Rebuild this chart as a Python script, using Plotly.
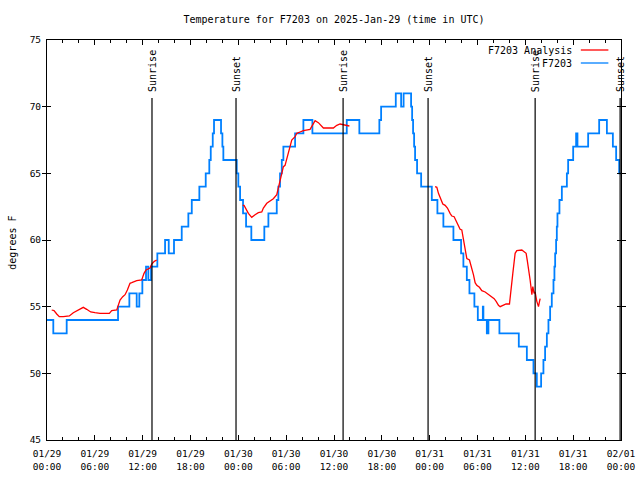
import pandas as pd
import plotly.graph_objects as go

BASE = pd.Timestamp("2025-01-29 00:00")

# Observed temperature (F7203), hours since 2025-01-29 00:00 UTC
obs_hours = [0.0, 0.79, 2.47, 8.91, 10.33, 11.25, 11.58, 11.96, 12.42, 12.71, 13.05, 13.84,
             14.81, 15.27, 15.93, 16.90, 17.73, 18.16, 19.11, 19.91, 20.36, 20.54, 20.79, 20.95,
             21.83, 22.0, 22.12, 23.80, 24.0, 24.22, 24.59, 24.97, 25.63, 27.26, 27.77, 28.82,
             29.02, 29.23, 29.45, 29.65, 31.12, 32.16, 33.29, 37.60, 39.18, 41.69, 41.91, 43.75,
             44.42, 44.73, 45.67, 45.80, 45.92, 46.05, 46.17, 46.42, 46.93, 48.27, 48.97, 49.72,
             50.98, 51.94, 52.23, 52.66, 52.99, 53.61, 54.04, 54.67, 54.74, 55.17, 55.37, 56.75,
             59.18, 60.19, 61.02, 61.44, 61.98, 62.27, 62.48, 62.70, 62.90, 63.11, 63.32, 63.53,
             63.65, 63.74, 63.86, 63.95, 64.03, 64.28, 64.58, 65.21, 65.37, 66.0, 66.37, 66.54,
             67.88, 69.26, 70.23, 70.98, 71.39, 71.77, 72.0]
obs_temp = [54, 53, 54, 55, 56, 55, 56, 57, 58, 57, 58, 59,
            60, 59, 60, 61, 62, 63, 64, 65, 66, 67, 68, 69,
            68, 67, 66, 65, 64, 63, 62, 61, 60, 61, 62, 63,
            64, 65, 66, 67, 68, 69, 68, 69, 68, 69, 70, 71,
            70, 71, 70, 69, 68, 67, 66, 65, 64, 63, 62, 61,
            60, 59, 58, 57, 56, 55, 54, 55, 54, 53, 54, 53,
            52, 51, 50, 49, 50, 51, 52, 53, 54, 55, 56, 57,
            58, 59, 60, 61, 62, 63, 64, 65, 66, 67, 68, 67,
            68, 69, 68, 67, 66, 65, 65]

# Analysis temperature (F7203 Analysis), three segments
ana1_hours = [0.59, 0.88, 1.22, 1.54, 2.05, 2.80, 3.30, 3.93, 4.55, 4.98, 5.48, 6.02, 6.65,
              7.82, 8.12, 8.75, 9.16, 9.50, 9.79, 10.08, 10.41, 10.63, 11.25, 11.88, 12.17,
              12.42, 12.92, 13.14, 13.46, 13.76]
ana1_temp = [54.75, 54.7, 54.45, 54.25, 54.25, 54.3, 54.55, 54.75, 54.95, 54.8, 54.6, 54.55, 54.5,
             54.5, 54.7, 54.75, 55.5, 55.75, 55.9, 56.25, 56.75, 56.8, 56.95, 57.0, 57.5,
             57.75, 57.9, 58.2, 58.4, 58.5]
ana2_hours = [24.55, 24.72, 25.26, 25.68, 26.10, 26.51, 26.94, 27.14, 27.57, 27.98, 28.39, 28.82,
              29.02, 29.23, 29.65, 29.86, 30.08, 30.28, 30.49, 30.70, 31.12, 31.33, 31.74, 32.16,
              33.0, 33.34, 33.63, 34.04, 34.47, 34.67, 35.92, 36.35, 36.76, 37.39, 37.93]
ana2_temp = [62.6, 62.6, 62.0, 61.7, 61.9, 62.05, 62.1, 62.4, 62.75, 62.9, 63.1, 63.4,
             63.9, 64.5, 65.5, 65.6, 66.1, 66.6, 67.1, 67.5, 67.75, 68.0, 68.1, 68.2,
             68.3, 68.6, 68.95, 68.8, 68.5, 68.4, 68.4, 68.6, 68.7, 68.6, 68.55]
ana3_hours = [48.68, 48.90, 49.10, 49.40, 49.65, 49.94, 50.23, 50.56, 50.78, 51.07, 51.32, 51.61,
              51.82, 52.03, 52.23, 52.45, 52.66, 52.99, 53.29, 53.49, 53.70, 53.91, 54.24, 54.54,
              54.96, 55.37, 55.80, 56.09, 56.34, 56.63, 56.84, 57.18, 57.59, 58.01, 58.18, 58.43,
              58.72, 58.93, 59.56, 59.85, 60.10, 60.26, 60.44, 60.60, 60.82, 60.94, 61.10, 61.23,
              61.44, 61.65, 61.78, 61.86]
ana3_temp = [64.0, 63.95, 63.5, 63.05, 62.7, 62.6, 62.4, 62.0, 61.8, 61.75, 61.4, 61.05,
             60.8, 60.75, 60.0, 59.25, 58.6, 58.5, 57.9, 57.4, 56.8, 56.6, 56.45, 56.2,
             56.1, 55.9, 55.7, 55.6, 55.4, 55.1, 55.0, 55.1, 55.2, 55.2, 56.25, 57.5,
             59.0, 59.2, 59.25, 59.1, 59.0, 58.4, 57.75, 57.0, 55.9, 56.5, 56.0, 56.1,
             55.4, 55.0, 55.4, 55.6]

# Sun events (hours since start)
sun_hours = [13.17, 23.71, 37.14, 47.80, 61.23, 71.89]
sun_labels = ["Sunrise", "Sunset", "Sunrise", "Sunset", "Sunrise", "Sunset"]

# Tick labels
tick_hours = list(range(0, 73, 6))
tick_labels = ["01/29<br>00:00", "01/29<br>06:00", "01/29<br>12:00", "01/29<br>18:00",
               "01/30<br>00:00", "01/30<br>06:00", "01/30<br>12:00", "01/30<br>18:00",
               "01/31<br>00:00", "01/31<br>06:00", "01/31<br>12:00", "01/31<br>18:00",
               "02/01<br>00:00"]

series_names = ["F7203 Analysis", "F7203"]
series_colors = ["#ff0000", "#0080ff"]


def to_time(hours):
    return [None if h is None else BASE + pd.Timedelta(hours=h) for h in hours]


ana_hours = ana1_hours + [None] + ana2_hours + [None] + ana3_hours
ana_temp = ana1_temp + [None] + ana2_temp + [None] + ana3_temp

FONT = "DejaVu Sans Mono"
FS = 9.5
FS_BIG = 10

W, H = 640, 480
ML, MT = 47, 40
PW, PH = 574, 400

fig = go.Figure()
fig.add_trace(go.Scatter(x=to_time(obs_hours), y=obs_temp, mode="lines",
                         line=dict(color=series_colors[1], width=1.8, shape="hv"),
                         name=series_names[1], showlegend=False))
fig.add_trace(go.Scatter(x=to_time(ana_hours), y=ana_temp, mode="lines",
                         line=dict(color=series_colors[0], width=1.3),
                         connectgaps=False, name=series_names[0], showlegend=False))
# invisible trace to activate the top axis carrying the minor ticks
fig.add_trace(go.Scatter(x=to_time([0, 72]), y=[None, None], xaxis="x2", mode="lines",
                         showlegend=False, hoverinfo="skip"))

shapes = []
annotations = []
for h, lab in zip(sun_hours, sun_labels):
    t = BASE + pd.Timedelta(hours=h)
    shapes.append(dict(type="line", xref="x", yref="paper", x0=t, x1=t, y0=0, y1=0.855,
                       line=dict(color="black", width=1.2)))
    annotations.append(dict(x=t, y=0.865, xref="x", yref="paper", text=lab, textangle=-90,
                            showarrow=False, xanchor="center", yanchor="bottom",
                            font=dict(family=FONT, size=FS_BIG, color="black")))

# Legend (gnuplot style: text then line sample)
legend_y = [0.975, 0.9425]
for name, col, ly in zip(series_names, series_colors, legend_y):
    annotations.append(dict(x=0.918, y=ly, xref="paper", yref="paper", text=name,
                            showarrow=False, xanchor="right", yanchor="middle",
                            font=dict(family=FONT, size=FS_BIG, color="black")))
    shapes.append(dict(type="line", xref="paper", yref="paper", x0=0.93, x1=0.978,
                       y0=ly, y1=ly, line=dict(color=col, width=1.3)))

annotations.append(dict(x=-0.0615, y=0.4925, xref="paper", yref="paper", text="degrees F",
                        textangle=-90, showarrow=False, xanchor="center", yanchor="middle",
                        font=dict(family=FONT, size=FS_BIG, color="black")))

fig.update_layout(
    width=W, height=H,
    margin=dict(l=ML, r=W - ML - PW, t=MT, b=H - MT - PH, autoexpand=False),
    paper_bgcolor="white", plot_bgcolor="white",
    title=dict(text="Temperature for F7203 on 2025-Jan-29 (time in UTC)",
               x=0.5, xref="paper", xanchor="center", y=1 - 19 / H, yref="container",
               yanchor="middle", font=dict(family=FONT, size=FS_BIG, color="black")),
    font=dict(family=FONT, size=FS, color="black"),
    shapes=shapes, annotations=annotations, showlegend=False,
    hovermode=False,
    xaxis2=dict(overlaying="x", side="top", range=[BASE, BASE + pd.Timedelta(hours=72)],
                tickmode="linear", tick0=BASE, dtick=2 * 3600 * 1000, ticks="inside",
                ticklen=3, tickcolor="black", showticklabels=False, showgrid=False,
                zeroline=False, showline=False, automargin=False),
    xaxis=dict(
        range=[BASE, BASE + pd.Timedelta(hours=72)],
        tickmode="array", tickvals=to_time(tick_hours), ticktext=tick_labels,
        ticks="inside", ticklen=5, tickcolor="black", tickwidth=1,
        showline=True, linecolor="black", linewidth=1, mirror="allticks",
        showgrid=False, zeroline=False, automargin=False, ticklabelstandoff=5,
        minor=dict(tickmode="linear", tick0=BASE, dtick=2 * 3600 * 1000,
                   ticks="inside", ticklen=3, tickcolor="black", showgrid=False),
        tickfont=dict(family=FONT, size=FS, color="black"),
    ),
    yaxis=dict(
        range=[45, 75], tickmode="linear", tick0=45, dtick=5,
        ticks="inside", ticklen=4, tickcolor="black",
        showline=True, linecolor="black", linewidth=1, mirror="allticks",
        showgrid=False, zeroline=False, automargin=False, ticklabelstandoff=3,
        tickfont=dict(family=FONT, size=FS, color="black"),
    ),
)

fig.write_html("out.html", config={"displayModeBar": False, "staticPlot": True},
               post_script="document.body.style.margin='0';document.body.style.overflow='hidden';")
